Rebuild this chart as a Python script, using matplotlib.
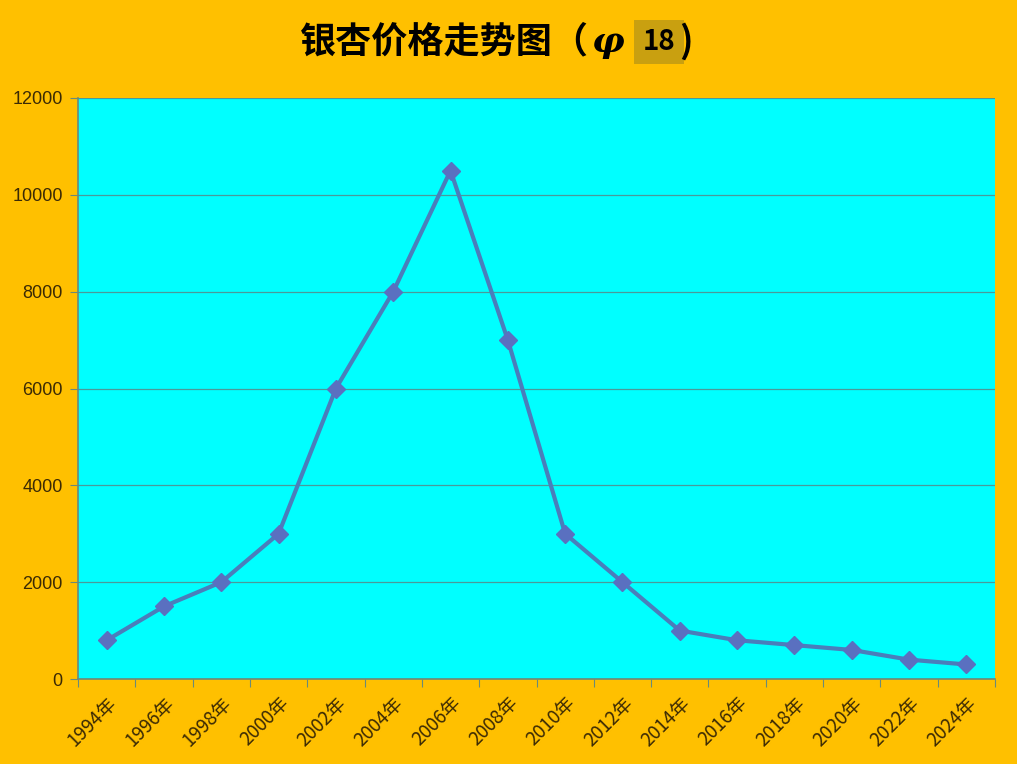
import numpy as np
import matplotlib.pyplot as plt

plt.rcParams['font.family'] = ['Noto Sans CJK SC', 'DejaVu Sans']

# data
years = ['1994年', '1996年', '1998年', '2000年', '2002年', '2004年', '2006年', '2008年',
         '2010年', '2012年', '2014年', '2016年', '2018年', '2020年', '2022年', '2024年']
prices = [800, 1500, 2000, 3000, 6000, 8000, 10500, 7000,
          3000, 2000, 1000, 800, 700, 600, 400, 300]
y_ticks = [0, 2000, 4000, 6000, 8000, 10000, 12000]

bg = '#FFC000'
text_c = '#3B2A05'

fig = plt.figure(figsize=(10.17, 7.64), dpi=100, facecolor=bg)
ax = fig.add_axes([78 / 1017, 1 - 679 / 764, 917 / 1017, 581 / 764])
ax.set_facecolor('#00FFFF')

x = np.arange(len(years))
ax.plot(x, prices, color='#4A7EBB', lw=3, marker='D', ms=9,
        mfc='#5A70C0', mec='#5A70C0', zorder=3, clip_on=False)

# category axis: points sit between the tick marks
ax.set_xlim(-0.5, len(years) - 0.5)
ax.set_xticks(np.arange(-0.5, len(years)), minor=False)
ax.set_xticklabels([])
ax.set_xticks(x, minor=True)
ax.set_xticklabels(years, minor=True, rotation=45, ha='right', va='top',
                   rotation_mode='anchor', fontsize=13.5, color=text_c)
ax.tick_params(axis='x', which='major', length=6, color='#6A8A7A', direction='out')
ax.tick_params(axis='x', which='minor', length=0, pad=10)

ax.set_ylim(0, 12000)
ax.set_yticks(y_ticks)
ax.set_yticklabels([str(v) for v in y_ticks], fontsize=13, color=text_c,
                   family=['Liberation Sans', 'DejaVu Sans'])
ax.tick_params(axis='y', length=6, color='#6A8A7A', direction='out', pad=5)
ax.yaxis.grid(True, color='#4A9A9A', lw=0.9)
ax.set_axisbelow(True)

for side in ['top', 'right']:
    ax.spines[side].set_visible(False)
for side in ['left', 'bottom']:
    ax.spines[side].set_color('#6A8A7A')
    ax.spines[side].set_linewidth(1.2)

# title with highlighted "18"
ty = 0.945
fig.text(0.295, ty, '银杏价格走势图（', fontsize=26, fontweight='bold',
         color='black', ha='left', va='center')
fig.text(0.581, ty, 'φ', fontsize=26, fontweight='bold', style='italic',
         color='black', ha='left', va='center', family=['DejaVu Serif'])
fig.text(0.648, ty, '18', fontsize=20, fontweight='bold', color='black',
         ha='center', va='center',
         bbox=dict(boxstyle='square,pad=0.3', fc='#C9A010', ec='none'))
fig.text(0.668, ty, ')', fontsize=26, fontweight='bold', color='black',
         ha='left', va='center')

fig.savefig('out.png', dpi=100, facecolor=bg)
